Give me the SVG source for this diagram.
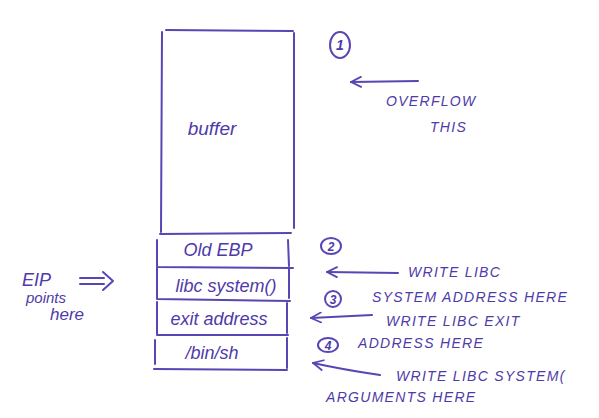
<svg xmlns="http://www.w3.org/2000/svg" width="599" height="418" viewBox="0 0 599 418">
<defs>
<style>
.ln{fill:none;stroke:#5a45b4;stroke-width:2;stroke-linecap:round;stroke-linejoin:round}
.t{font-family:"Liberation Sans","DejaVu Sans",sans-serif;fill:#4e3aa8;font-style:italic}
.lab{font-size:18px;text-anchor:middle}
.cap{font-size:14px;letter-spacing:1.3px}
.num{font-size:14px;text-anchor:middle;font-weight:bold}
</style>
<marker id="ah" viewBox="0 0 12 12" refX="11" refY="6" markerWidth="12" markerHeight="12" markerUnits="userSpaceOnUse" orient="auto">
<path d="M1,1 L11,6 L1,11" fill="none" stroke="#5a45b4" stroke-width="1.8" stroke-linecap="round"/>
</marker>
</defs>
<rect width="599" height="418" fill="#ffffff"/>
<g id="buffer">
<path class="ln" d="M162,32 L161,232 M166,30 L293,31 M294,33 L294,228 M160,234 L291,233"/>
<text class="t lab" x="212" y="135" style="font-size:19px">buffer</text>
</g>
<g id="old-ebp">
<path class="ln" d="M157,240 L157,266 M157,267 L293,268 M288,240 L289,266"/>
<text class="t lab" x="218" y="256">Old EBP</text>
</g>
<g id="libc-system">
<path class="ln" d="M157,268 L157,298 M157,299 L290,301 M289,269 L289,298"/>
<text class="t lab" x="226" y="292">libc system()</text>
</g>
<g id="exit-address">
<path class="ln" d="M157,302 L157,334 M157,335 L288,335 M287,303 L287,333"/>
<text class="t lab" x="219" y="325">exit address</text>
</g>
<g id="bin-sh">
<path class="ln" d="M155,340 L155,364 M154,369 L287,370 M287,338 L287,368"/>
<text class="t lab" x="212" y="359">/bin/sh</text>
</g>
<g id="labels">
<ellipse class="ln" cx="340" cy="45" rx="10" ry="13"/>
<text class="t num" x="340" y="50">1</text>
<text class="t cap" x="386" y="106">OVERFLOW</text>
<text class="t cap" x="430" y="132">THIS</text>
<ellipse class="ln" cx="331" cy="246" rx="10" ry="8"/>
<text class="t num" x="331" y="251" style="font-size:12px">2</text>
<text class="t cap" x="408" y="277">WRITE LIBC</text>
<ellipse class="ln" cx="333" cy="299" rx="8" ry="8"/>
<text class="t num" x="333" y="304" style="font-size:12px">3</text>
<text class="t cap" x="372" y="302">SYSTEM ADDRESS HERE</text>
<text class="t cap" x="386" y="326">WRITE LIBC EXIT</text>
<ellipse class="ln" cx="328" cy="345" rx="10" ry="7"/>
<text class="t num" x="328" y="350" style="font-size:12px">4</text>
<text class="t cap" x="358" y="348">ADDRESS HERE</text>
<text class="t cap" x="396" y="381">WRITE LIBC SYSTEM(</text>
<text class="t cap" x="326" y="402">ARGUMENTS HERE</text>
<text class="t" x="22" y="286" style="font-size:18px">EIP</text>
<text class="t" x="26" y="303" style="font-size:15px">points</text>
<text class="t" x="50" y="320" style="font-size:17px">here</text>
</g>
<g id="connectors">
<path class="ln" d="M418,81 L351,82" marker-end="url(#ah)"/>
<path class="ln" d="M398,273 L327,272" marker-end="url(#ah)"/>
<path class="ln" d="M372,315 L311,318" marker-end="url(#ah)"/>
<path class="ln" d="M380,375 Q345,370 313,363" marker-end="url(#ah)"/>
<path class="ln" d="M80,278 L104,278 M80,284 L104,284 M103,272 L113,281 L103,290"/>
</g>
</svg>
